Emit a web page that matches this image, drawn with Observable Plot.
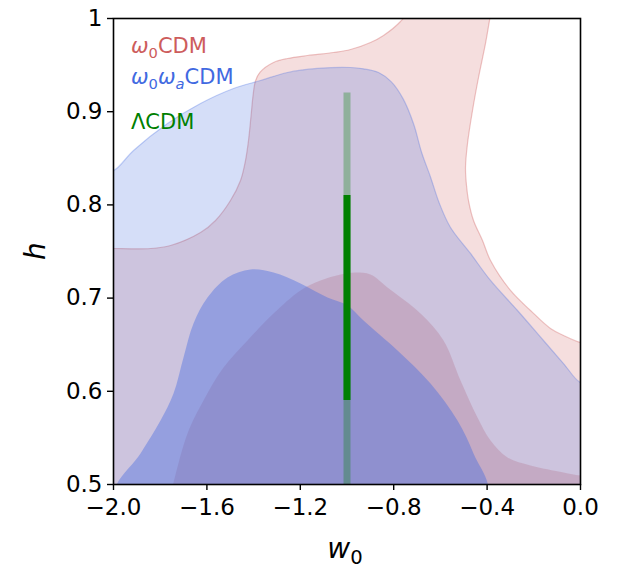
<!DOCTYPE html>
<html><head><meta charset="utf-8">
<script src="https://cdn.jsdelivr.net/npm/d3@7"></script>
<script src="https://cdn.jsdelivr.net/npm/@observablehq/plot@0.6"></script>
<style>body{margin:0;background:#fff} svg{display:block}</style>
</head><body><div id="chart"></div>
<script>
// tick values
const xTicks = [-2.0, -1.6, -1.2, -0.8, -0.4, 0.0];
const yTicks = [0.5, 0.6, 0.7, 0.8, 0.9, 1.0];

// w0CDM 95% contour [w0, h]
const w0cdmOuter = [
  [-2.05,0.7532],[-2.0,0.7532],[-1.8415,0.7532],[-1.756,0.7564],[-1.6274,0.7704],[-1.563,0.7833],
  [-1.499,0.8047],[-1.456,0.8262],[-1.4347,0.8476],[-1.4218,0.8691],[-1.410,0.8980],[-1.402,0.9180],
  [-1.392,0.9330],[-1.372,0.9425],[-1.3148,0.9528],[-1.2548,0.9571],[-1.1692,0.9603],[-1.0578,0.9635],
  [-0.985,0.9667],[-0.8994,0.9742],[-0.8437,0.9818],[-0.7709,0.9968],[-0.7495,1.0043],[-0.72,1.04],
  [-0.39,1.04],[-0.3854,1.0043],[-0.3897,0.9979],[-0.4068,0.9732],[-0.4368,0.9367],[-0.4625,0.9013],
  [-0.4839,0.8659],[-0.4925,0.8401],[-0.4882,0.8208],[-0.4797,0.8047],[-0.4582,0.7833],[-0.4197,0.7618],
  [-0.3854,0.7403],[-0.2998,0.7082],[-0.2141,0.6867],[-0.1285,0.6674],[-0.0728,0.6599],[0.0,0.6524],
  [0.05,0.6524],[0.05,0.45],[-2.05,0.45]
];
// w0CDM 68% contour
const w0cdmInner = [
  [-1.7559,0.49],[-1.6831,0.5547],[-1.6146,0.5901],[-1.5289,0.6255],[-1.4261,0.6545],[-1.3148,0.6835],
  [-1.1991,0.7082],[-1.1135,0.7189],[-1.0278,0.7253],[-0.9636,0.7275],[-0.8994,0.7253],[-0.8266,0.7114],
  [-0.6852,0.6835],[-0.5867,0.6545],[-0.5139,0.6116],[-0.4411,0.5719],[-0.3854,0.5472],[-0.3126,0.529],
  [-0.2141,0.5204],[-0.0728,0.5129],[0.0,0.5097],[0.05,0.5097],[0.05,0.45],[-1.8,0.45]
];
// w0waCDM 95% contour
const w0waOuter = [
  [-2.05,0.8369],[-2.0,0.8369],[-1.9143,0.8584],[-1.7687,0.8873],[-1.6274,0.9088],[-1.4861,0.9249],
  [-1.3704,0.9335],[-1.2548,0.9421],[-1.1263,0.9464],[-0.985,0.9474],[-0.9293,0.9460],[-0.8650,0.9420],
  [-0.8100,0.9320],[-0.7600,0.9140],[-0.7150,0.8870],[-0.6800,0.8560],[-0.6424,0.8300],[-0.6050,0.8020],
  [-0.5567,0.7758],[-0.4711,0.7479],[-0.3854,0.7189],[-0.2698,0.6867],[-0.1585,0.6545],[-0.0728,0.6298],
  [0.0,0.6094],[0.05,0.6094],[0.05,0.45],[-2.05,0.45]
];
// w0waCDM 68% contour
const w0waInner = [
  [-1.99,0.49],[-1.8844,0.5333],[-1.7987,0.5687],[-1.743,0.5976],[-1.7002,0.6363],[-1.6574,0.6727],
  [-1.5974,0.7006],[-1.5118,0.7221],[-1.4133,0.7307],[-1.3148,0.7275],[-1.1991,0.7157],[-1.0835,0.7006],
  [-0.9979,0.6921],[-0.9293,0.676],[-0.7837,0.6438],[-0.6424,0.6084],[-0.5268,0.5687],[-0.4582,0.5333],
  [-0.4026,0.49],[-1.2,0.45]
];
// LambdaCDM: w0 = -1, h intervals
const lcdmBands = [
  {w0: -1.0, lo: 0.50, hi: 0.92, level: "95"},
  {w0: -1.0, lo: 0.59, hi: 0.81, level: "68"}
];

const red = "#cd5c5c", blue = "#4169e1", green = "#008000";
const px = d => d[0], py = d => d[1];

const chart = Plot.plot({
  width: 622, height: 570,
  marginTop: 18, marginRight: 42, marginBottom: 86, marginLeft: 113,
  style: {fontFamily: "DejaVu Sans", fontSize: "23px", background: "white", color: "black"},
  x: {domain: [-2, 0]},
  y: {domain: [0.5, 1]},
  marks: [
    Plot.line(w0cdmOuter, {x: px, y: py, curve: "catmull-rom-closed", fill: red, fillOpacity: 0.2, stroke: red, strokeOpacity: 0.35, strokeWidth: 1.2, clip: true}),
    Plot.line(w0cdmInner, {x: px, y: py, curve: "catmull-rom-closed", fill: red, fillOpacity: 0.25, stroke: "none", clip: true}),
    Plot.line(w0waOuter, {x: px, y: py, curve: "catmull-rom-closed", fill: blue, fillOpacity: 0.22, stroke: blue, strokeOpacity: 0.3, strokeWidth: 1.2, clip: true}),
    Plot.line(w0waInner, {x: px, y: py, curve: "catmull-rom-closed", fill: blue, fillOpacity: 0.4, stroke: "none", clip: true}),
    Plot.ruleX(lcdmBands.filter(d => d.level === "95"), {x: "w0", y1: "lo", y2: "hi", stroke: green, strokeOpacity: 0.3, strokeWidth: 7}),
    Plot.ruleX(lcdmBands.filter(d => d.level === "68"), {x: "w0", y1: "lo", y2: "hi", stroke: green, strokeWidth: 7}),
    Plot.frame({stroke: "black", strokeWidth: 1.6}),
    Plot.axisX({ticks: xTicks, tickFormat: d => d.toFixed(1).replace("-", "\u2212"), tickSize: 6, tickPadding: 8, strokeWidth: 1.4, label: null}),
    Plot.axisY({ticks: yTicks, tickFormat: d => d === 1 ? "1" : d.toFixed(1), tickSize: 6, tickPadding: 5, strokeWidth: 1.4, label: null})
  ]
});
document.getElementById("chart").appendChild(chart);

const svg = d3.select(chart);
function mathText(x, y, parts, color, size, anchor, rotate) {
  const t = svg.append("text").attr("x", x).attr("y", y).attr("fill", color)
    .attr("font-family", "DejaVu Sans").attr("font-size", size).attr("text-anchor", anchor);
  if (rotate) t.attr("transform", `rotate(-90 ${x} ${y})`);
  parts.forEach(p => {
    const s = t.append("tspan").text(p.t);
    if (p.it) s.attr("font-style", "italic");
    if (p.sub) s.attr("font-size", size * 0.7).attr("dy", size * 0.22);
    if (p.up) s.attr("dy", -size * 0.22);
  });
  return t;
}
// legend
mathText(131, 53, [{t: "\u03c9", it: true}, {t: "0", sub: true}, {t: "CDM", up: true}], red, 21, "start");
mathText(131, 84, [{t: "\u03c9", it: true}, {t: "0", sub: true}, {t: "\u03c9", it: true, up: true}, {t: "a", it: true, sub: true}, {t: "CDM", up: true}], blue, 21, "start");
mathText(131, 129, [{t: "\u039bCDM"}], green, 21, "start");
// axis labels
mathText(345, 558, [{t: "w", it: true}, {t: "0", sub: true}], "black", 28, "middle");
mathText(45, 251, [{t: "h", it: true}], "black", 28, "middle", true);
</script></body></html>
